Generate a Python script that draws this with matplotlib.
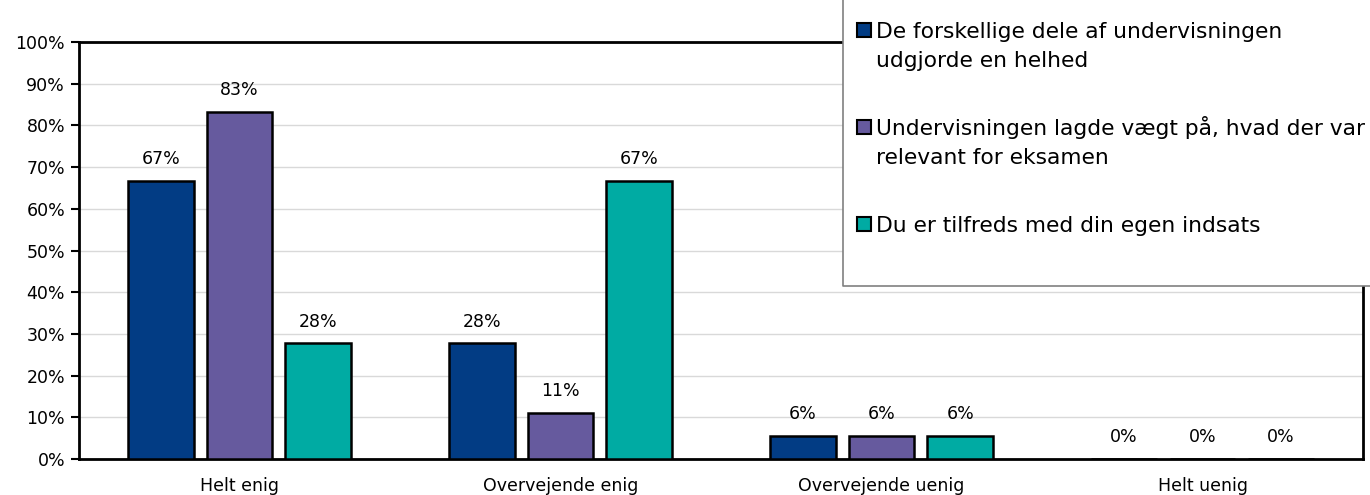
import numpy as np
import matplotlib
matplotlib.use('Agg')
import matplotlib.pyplot as plt
from matplotlib.lines import Line2D
from matplotlib.patches import Rectangle
from matplotlib.ticker import PercentFormatter

categories = ['Helt enig', 'Overvejende enig', 'Overvejende uenig', 'Helt uenig']
series_names = [
    'De forskellige dele af undervisningen\nudgjorde en helhed',
    'Undervisningen lagde vægt på, hvad der var\nrelevant for eksamen',
    'Du er tilfreds med din egen indsats',
]
helhed = [66.7, 27.8, 5.6, 0.0]
eksamen = [83.3, 11.1, 5.6, 0.0]
indsats = [27.8, 66.7, 5.6, 0.0]
colors = ['#023c84', '#665a9e', '#00aba3']

plt.rcParams['font.family'] = ['DejaVu Sans']

W, H = 1370, 495
fig = plt.figure(figsize=(W / 100, H / 100), dpi=100)
ax = fig.add_axes([79 / W, 36 / H, 1284 / W, 417 / H])

x = np.arange(len(categories))
width = 0.205
step = 0.245
for i, vals in enumerate([helhed, eksamen, indsats]):
    pos = x + (i - 1) * step
    ax.bar(pos, vals, width, color=colors[i], edgecolor='black', linewidth=1.8, zorder=3)
    for px, v in zip(pos, vals):
        ax.text(px, v + 3, f'{v:.0f}%', ha='center', va='bottom', fontsize=12.5)

ax.set_xlim(-0.5, len(categories) - 0.5)
ax.set_ylim(0, 100)
ax.set_yticks(range(0, 101, 10))
ax.yaxis.set_major_formatter(PercentFormatter(decimals=0))
ax.set_xticks(x)
ax.set_xticklabels(categories)
ax.tick_params(axis='x', length=0, labelsize=12.5, pad=13)
ax.tick_params(axis='y', length=6, width=1.5, labelsize=12.5, pad=4)
ax.grid(axis='y', color='#d9d9d9', linewidth=1, zorder=0)
for s in ax.spines.values():
    s.set_linewidth(2)

# legend box: top and right edge run off the picture, as in the original
bx, by = 843 / W, 1 - 286 / H
fig.add_artist(Rectangle((bx, by), 1 - bx + 0.01, 1 - by + 0.01,
                         transform=fig.transFigure, facecolor='white',
                         edgecolor='none', zorder=5))
fig.add_artist(Line2D([bx, bx, 1.01], [1.01, by, by], transform=fig.transFigure,
                      color='#808080', linewidth=1.2, zorder=5.5))
first_baseline = 38
entry_step = 97
line_step = 29
for i, name in enumerate(series_names):
    base = first_baseline + i * entry_step
    fig.add_artist(Rectangle((857 / W, 1 - (base - 1) / H), 14 / W, 14 / H,
                             transform=fig.transFigure, facecolor=colors[i],
                             edgecolor='black', linewidth=1.5, zorder=6))
    for k, line in enumerate(name.split('\n')):
        fig.text(876 / W, 1 - (base + k * line_step) / H, line, fontsize=15.7,
                 ha='left', va='baseline', zorder=7)

fig.savefig('out.png', dpi=100)
